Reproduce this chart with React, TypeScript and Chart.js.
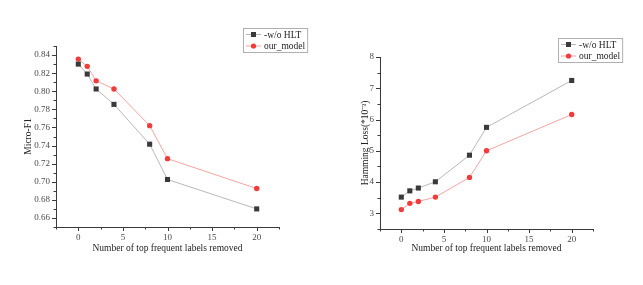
import { useEffect, useRef } from 'react';
import { Chart, registerables } from 'chart.js';

Chart.register(...registerables);

// ---- data ----
const labelsRemoved = [0, 1, 2, 4, 8, 10, 20];
const microF1Baseline = [0.830, 0.819, 0.8025, 0.7855, 0.7415, 0.7025, 0.670];
const microF1Ours = [0.8355, 0.8275, 0.8115, 0.8025, 0.762, 0.7255, 0.6925];
const hammingBaseline = [3.52, 3.72, 3.81, 4.01, 4.86, 5.75, 7.25];
const hammingOurs = [3.12, 3.32, 3.38, 3.52, 4.15, 5.0, 6.16];
const seriesNames = ['-w/o HLT', 'our_model'];
const xTickValues = [-2.5, 0, 2.5, 5, 7.5, 10, 12.5, 15, 17.5, 20, 22.5];
const xTickLabels = ['', '0', '', '5', '', '10', '', '15', '', '20', ''];
const f1TickValues = [0.65, 0.66, 0.67, 0.68, 0.69, 0.70, 0.71, 0.72, 0.73, 0.74, 0.75, 0.76, 0.77, 0.78, 0.79, 0.80, 0.81, 0.82, 0.83, 0.84, 0.85];
const f1TickLabels = ['', '0.66', '', '0.68', '', '0.70', '', '0.72', '', '0.74', '', '0.76', '', '0.78', '', '0.80', '', '0.82', '', '0.84', ''];
const hlTickValues = [2.5, 3, 3.5, 4, 4.5, 5, 5.5, 6, 6.5, 7, 7.5, 8];
const hlTickLabels = ['', '3', '', '4', '', '5', '', '6', '', '7', '', '8'];

const FONT = "'Liberation Serif', 'Times New Roman', serif";
const AXIS_COLOR = '#3a3a3a';
const TEXT_COLOR = '#4a4a4a';
const BASE_LINE = '#b8b8b8';
const BASE_POINT = '#3a3a3a';
const OURS_LINE = '#f6a3a3';
const OURS_POINT = '#f23b3b';

const tickPlugin = {
  id: 'outerTicks',
  afterDraw(chart: any) {
    const ctx = chart.ctx;
    ctx.save();
    ctx.strokeStyle = AXIS_COLOR;
    ctx.lineWidth = 1;
    ['x', 'y'].forEach((id) => {
      const scale = chart.scales[id];
      scale.ticks.forEach((t: any) => {
        const major = t.label !== '' && t.label != null;
        const len = major ? 4 : 2.5;
        const p = Math.round(scale.getPixelForValue(t.value)) + 0.5;
        ctx.beginPath();
        if (id === 'x') {
          const y = chart.chartArea.bottom;
          ctx.moveTo(p, y);
          ctx.lineTo(p, y + len);
        } else {
          const x = chart.chartArea.left;
          ctx.moveTo(x, p);
          ctx.lineTo(x - len, p);
        }
        ctx.stroke();
      });
    });
    ctx.restore();
  },
};

const legendPlugin = {
  id: 'boxLegend',
  afterDraw(chart: any, _args: any, opts: any) {
    const ctx = chart.ctx;
    const x0 = opts.x;
    const y0 = opts.y;
    ctx.save();
    ctx.font = `9.5px ${FONT}`;
    const names = chart.data.datasets.map((d: any) => d.label);
    const tw = Math.max(...names.map((n: string) => ctx.measureText(n).width));
    const w = tw + 23;
    const h = 24;
    ctx.strokeStyle = '#b0b0b0';
    ctx.lineWidth = 1;
    ctx.strokeRect(x0 + 0.5, y0 + 0.5, w, h);
    chart.data.datasets.forEach((d: any, i: number) => {
      const cy = y0 + 6.5 + i * 11.5;
      ctx.strokeStyle = d.borderColor;
      ctx.beginPath();
      ctx.moveTo(x0 + 3, cy);
      ctx.lineTo(x0 + 18, cy);
      ctx.stroke();
      ctx.fillStyle = d.pointBackgroundColor;
      if (d.pointStyle === 'rect') {
        ctx.fillRect(x0 + 8, cy - 2.5, 5, 5);
      } else {
        ctx.beginPath();
        ctx.arc(x0 + 10.5, cy, 2.6, 0, Math.PI * 2);
        ctx.fill();
      }
      ctx.fillStyle = '#222';
      ctx.textBaseline = 'middle';
      ctx.textAlign = 'left';
      ctx.fillText(d.label, x0 + 21, cy + 0.5);
    });
    ctx.restore();
  },
};

type PanelProps = {
  left: number;
  width: number;
  area: { left: number; right: number; top: number; bottom: number };
  base: number[];
  ours: number[];
  yMin: number;
  yMax: number;
  yTickValues: number[];
  yTickLabels: string[];
  yTitle: string;
  yTitleX: number;
  legendPos: { x: number; y: number };
};

function Panel(p: PanelProps) {
  const ref = useRef<HTMLCanvasElement | null>(null);
  useEffect(() => {
    if (!ref.current) return;
    const H = 285;
    const titleFont = { family: FONT, size: 9.5, lineHeight: 1.2 };
    const tickFont = { family: FONT, size: 9 };
    const chart = new Chart(ref.current, {
      type: 'line',
      data: {
        datasets: [
          {
            label: seriesNames[0],
            data: labelsRemoved.map((x, i) => ({ x, y: p.base[i] })),
            borderColor: BASE_LINE,
            borderWidth: 1,
            pointStyle: 'rect',
            pointRadius: 3.6,
            pointBackgroundColor: BASE_POINT,
            pointBorderColor: BASE_POINT,
            pointBorderWidth: 0,
            tension: 0,
          },
          {
            label: seriesNames[1],
            data: labelsRemoved.map((x, i) => ({ x, y: p.ours[i] })),
            borderColor: OURS_LINE,
            borderWidth: 1,
            pointStyle: 'circle',
            pointRadius: 2.7,
            pointBackgroundColor: OURS_POINT,
            pointBorderColor: OURS_POINT,
            pointBorderWidth: 0,
            tension: 0,
          },
        ],
      },
      options: {
        animation: false,
        responsive: false,
        devicePixelRatio: 1,
        layout: {
          padding: { left: 0, top: p.area.top, right: p.width - p.area.right, bottom: 0 },
        },
        plugins: {
          legend: { display: false },
          tooltip: { enabled: false },
          boxLegend: p.legendPos,
        } as any,
        scales: {
          x: {
            type: 'linear',
            min: -2.5,
            max: 22.5,
            afterBuildTicks: (s: any) => {
              s.ticks = xTickValues.map((v) => ({ value: v }));
            },
            afterFit: (s: any) => {
              s.height = H - p.area.bottom;
            },
            grid: { display: false, drawTicks: false },
            border: { display: true, color: AXIS_COLOR, width: 1 },
            ticks: {
              autoSkip: false,
              maxRotation: 0,
              padding: 5,
              color: TEXT_COLOR,
              font: tickFont,
              callback: (_v: any, i: number) => xTickLabels[i],
            },
            title: {
              display: true,
              text: 'Number of top frequent labels removed',
              color: '#222',
              font: titleFont,
              padding: { top: 0, bottom: 37 - 5.7 },
            },
          },
          y: {
            type: 'linear',
            min: p.yMin,
            max: p.yMax,
            afterBuildTicks: (s: any) => {
              s.ticks = p.yTickValues.map((v) => ({ value: v }));
            },
            afterFit: (s: any) => {
              s.width = p.area.left;
            },
            grid: { display: false, drawTicks: false },
            border: { display: true, color: AXIS_COLOR, width: 1 },
            ticks: {
              autoSkip: false,
              padding: 6,
              color: TEXT_COLOR,
              font: tickFont,
              callback: (_v: any, i: number) => p.yTickLabels[i],
            },
            title: {
              display: true,
              text: p.yTitle,
              color: '#222',
              font: titleFont,
              padding: { top: p.yTitleX - 5.7, bottom: 0 },
            },
          },
        },
      },
      plugins: [tickPlugin, legendPlugin],
    });
    return () => chart.destroy();
  }, []);
  return (
    <canvas
      ref={ref}
      width={p.width}
      height={285}
      style={{ position: 'absolute', left: p.left, top: 0, width: p.width, height: 285 }}
    />
  );
}

export default function App() {
  return (
    <div style={{ position: 'absolute', left: 0, top: 0, width: 643, height: 285, background: '#fff' }}>
      <Panel
        left={0}
        width={321}
        area={{ left: 56, right: 279, top: 46, bottom: 227 }}
        base={microF1Baseline}
        ours={microF1Ours}
        yMin={0.65}
        yMax={0.85}
        yTickValues={f1TickValues}
        yTickLabels={f1TickLabels}
        yTitle="Micro-F1"
        yTitleX={28}
        legendPos={{ x: 243, y: 28 }}
      />
      <Panel
        left={321}
        width={322}
        area={{ left: 59, right: 272, top: 57, bottom: 229 }}
        base={hammingBaseline}
        ours={hammingOurs}
        yMin={2.5}
        yMax={8}
        yTickValues={hlTickValues}
        yTickLabels={hlTickLabels}
        yTitle="Hamming Loss(*10⁻³)"
        yTitleX={44}
        legendPos={{ x: 237, y: 38 }}
      />
    </div>
  );
}
